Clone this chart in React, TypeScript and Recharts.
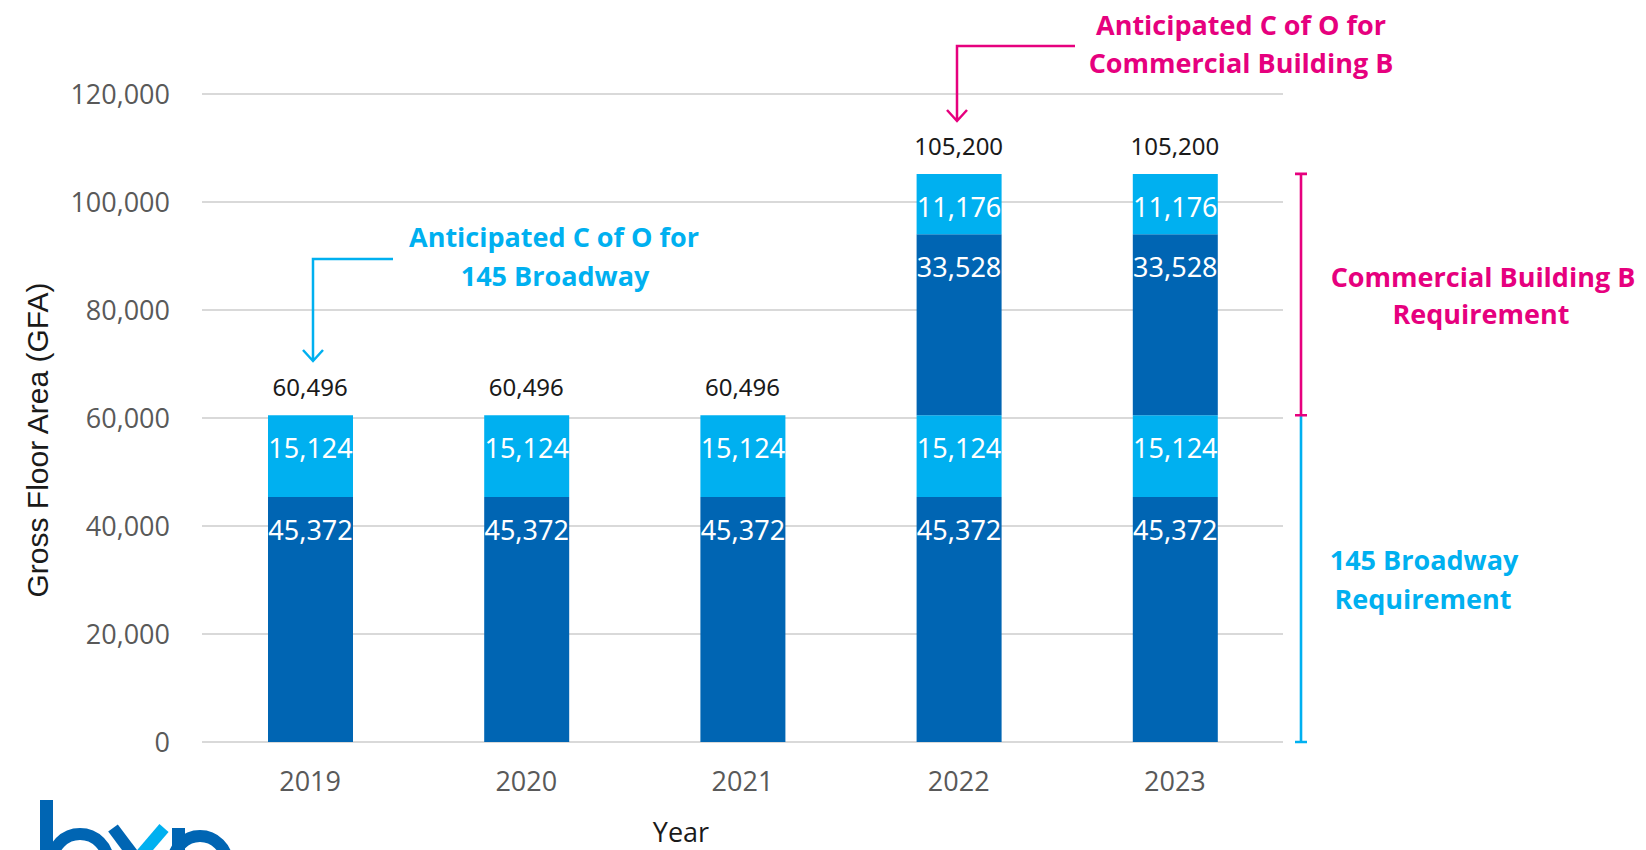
import React from "react";
import {
  ComposedChart,
  Bar,
  Line,
  XAxis,
  YAxis,
  CartesianGrid,
  LabelList,
} from "recharts";

// values
const years = ["2019", "2020", "2021", "2022", "2023"];
const broadwayBase = [45372, 45372, 45372, 45372, 45372];
const broadwayTop = [15124, 15124, 15124, 15124, 15124];
const buildingBBase = [0, 0, 0, 33528, 33528];
const buildingBTop = [0, 0, 0, 11176, 11176];
const yTicks = [0, 20000, 40000, 60000, 80000, 100000, 120000];

const data = years.map((year, i) => ({
  year,
  broadwayBase: broadwayBase[i],
  broadwayTop: broadwayTop[i],
  buildingBBase: buildingBBase[i],
  buildingBTop: buildingBTop[i],
  total: broadwayBase[i] + broadwayTop[i] + buildingBBase[i] + buildingBTop[i],
}));

const W = 1646;
const H = 850;
const PLOT_TOP = 94;
const PLOT_BOTTOM = 742;
const X_AXIS_H = 30;
const Y_MAX = 120000;

const DARK = "#0065B3";
const LIGHT = "#00B0F0";
const PINK = "#E6007E";

const fmt = (v: any) => (v ? Number(v).toLocaleString("en-US") : "");
const yOf = (v: number) => PLOT_BOTTOM - (v / Y_MAX) * (PLOT_BOTTOM - PLOT_TOP);

const annoFont = { fontFamily: "Open Sans", fontWeight: 700, fontSize: 27 };

const Overlay: React.FC = () => {
  const broadwayTotal = broadwayBase[0] + broadwayTop[0];
  const fullTotal = data[3].total;
  const bx = 1301;
  return (
    <svg
      width={W}
      height={H}
      style={{ position: "absolute", left: 0, top: 0, pointerEvents: "none" }}
    >
      {/* axis titles */}
      <text
        transform="translate(37,440) rotate(-90)"
        textAnchor="middle"
        dominantBaseline="central"
        fontFamily="Liberation Sans"
        fontSize={30}
        fill="#1a1a1a"
      >
        Gross Floor Area (GFA)
      </text>
      <text x={681} y={842} textAnchor="middle" fontFamily="Open Sans" fontSize={27} fill="#1a1a1a">
        Year
      </text>

      {/* 145 Broadway callout */}
      <g fill={LIGHT} {...annoFont} textAnchor="middle">
        <text x={554} y={247}>Anticipated C of O for</text>
        <text x={555} y={286}>145 Broadway</text>
      </g>
      <path d="M393,259 H313 V361 M303,350 L313,361 L323,350" fill="none" stroke={LIGHT} strokeWidth={2.5} />

      {/* Commercial Building B callout */}
      <g fill={PINK} {...annoFont} textAnchor="middle">
        <text x={1241} y={35}>Anticipated C of O for</text>
        <text x={1241} y={73}>Commercial Building B</text>
      </g>
      <path d="M1075,46 H957 V121 M947,110 L957,121 L967,110" fill="none" stroke={PINK} strokeWidth={2.5} />

      {/* brackets */}
      <path
        d={`M${bx},${yOf(0)} V${yOf(broadwayTotal)} M${bx - 6},${yOf(0)} H${bx + 6}`}
        stroke={LIGHT}
        strokeWidth={2.6}
        fill="none"
      />
      <path
        d={`M${bx},${yOf(broadwayTotal)} V${yOf(fullTotal)} M${bx - 6},${yOf(fullTotal)} H${bx + 6} M${bx - 6},${yOf(broadwayTotal)} H${bx + 6}`}
        stroke={PINK}
        strokeWidth={2.6}
        fill="none"
      />
      <g fill={PINK} {...annoFont} textAnchor="middle">
        <text x={1483} y={287}>Commercial Building B</text>
        <text x={1481} y={324}>Requirement</text>
      </g>
      <g fill={LIGHT} {...annoFont} textAnchor="middle">
        <text x={1424} y={570}>145 Broadway</text>
        <text x={1423} y={609}>Requirement</text>
      </g>

      {/* bxp logo, cut off by the page edge */}
      <g fill="none" strokeWidth={12}>
        <rect x={40} y={800} width={13} height={60} fill={DARK} />
        <circle cx={80} cy={862} r={28} stroke={DARK} />
        <line x1={113} y1={828} x2={161} y2={892} stroke={DARK} />
        <line x1={140} y1={856} x2={110} y2={892} stroke={DARK} />
        <line x1={164} y1={828} x2={140} y2={856} stroke={LIGHT} />
        <rect x={172} y={828} width={13} height={40} fill={DARK} />
        <circle cx={200} cy={863} r={27} stroke={DARK} />
      </g>
    </svg>
  );
};

const App: React.FC = () => {
  return (
    <div
      style={{
        position: "absolute",
        left: 0,
        top: 0,
        width: W,
        height: H,
        background: "#fff",
        overflow: "hidden",
      }}
    >
      <ComposedChart
        width={W}
        height={H}
        data={data}
        margin={{ top: PLOT_TOP, right: W - 1283, bottom: H - PLOT_BOTTOM - X_AXIS_H, left: 0 }}
      >
        <CartesianGrid vertical={false} stroke="#D9D9D9" strokeWidth={2} />
        <XAxis
          dataKey="year"
          height={X_AXIS_H}
          axisLine={false}
          tickLine={false}
          tickMargin={24}
          tick={{ fill: "#595959", fontSize: 27, fontFamily: "Open Sans" }}
        />
        <YAxis
          width={202}
          domain={[0, Y_MAX]}
          ticks={yTicks}
          axisLine={false}
          tickLine={false}
          tickMargin={26}
          tickFormatter={(v: number) => v.toLocaleString("en-US")}
          tick={{ fill: "#595959", fontSize: 27, fontFamily: "Open Sans" }}
        />
        <Bar dataKey="broadwayBase" stackId="s" fill={DARK} barSize={85} isAnimationActive={false}>
          <LabelList dataKey="broadwayBase" position="insideTop" offset={24} formatter={fmt} fill="#fff" fontSize={27} fontFamily="Noto Sans" />
        </Bar>
        <Bar dataKey="broadwayTop" stackId="s" fill={LIGHT} barSize={85} isAnimationActive={false}>
          <LabelList dataKey="broadwayTop" position="insideTop" offset={24} formatter={fmt} fill="#fff" fontSize={27} fontFamily="Noto Sans" />
        </Bar>
        <Bar dataKey="buildingBBase" stackId="s" fill={DARK} barSize={85} isAnimationActive={false}>
          <LabelList dataKey="buildingBBase" position="insideTop" offset={24} formatter={fmt} fill="#fff" fontSize={27} fontFamily="Noto Sans" />
        </Bar>
        <Bar dataKey="buildingBTop" stackId="s" fill={LIGHT} barSize={85} isAnimationActive={false}>
          <LabelList dataKey="buildingBTop" position="insideTop" offset={24} formatter={fmt} fill="#fff" fontSize={27} fontFamily="Noto Sans" />
        </Bar>
        <Line dataKey="total" stroke="none" dot={false} activeDot={false} legendType="none" isAnimationActive={false}>
          <LabelList dataKey="total" position="top" offset={19} formatter={fmt} fill="#1a1a1a" fontSize={24} fontFamily="Noto Sans" />
        </Line>
      </ComposedChart>
      <Overlay />
    </div>
  );
};

export default App;
